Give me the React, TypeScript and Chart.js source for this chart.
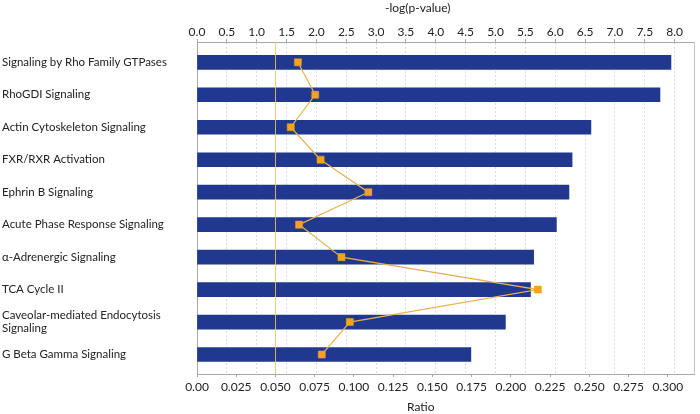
import React, { useEffect, useRef } from "react";
import { Chart, registerables } from "chart.js";

Chart.register(...registerables);

const categories: (string | string[])[] = [
  "Signaling by Rho Family GTPases",
  "RhoGDI Signaling",
  "Actin Cytoskeleton Signaling",
  "FXR/RXR Activation",
  "Ephrin B Signaling",
  "Acute Phase Response Signaling",
  "\u03b1-Adrenergic Signaling",
  "TCA Cycle II",
  ["Caveolar-mediated Endocytosis", "Signaling"],
  "G Beta Gamma Signaling",
];

const ratioValues = [0.302, 0.295, 0.251, 0.239, 0.237, 0.229, 0.2145, 0.2125, 0.1965, 0.1745];
const logPValues = [1.69, 1.98, 1.57, 2.07, 2.87, 1.71, 2.42, 5.71, 2.56, 2.09];
const thresholdLogP = 1.3;

const ratioTicks = [0, 0.025, 0.05, 0.075, 0.1, 0.125, 0.15, 0.175, 0.2, 0.225, 0.25, 0.275, 0.3];
const logPTicks = [0, 0.5, 1, 1.5, 2, 2.5, 3, 3.5, 4, 4.5, 5, 5.5, 6, 6.5, 7, 7.5, 8];

const topTitle = "-log(p-value)";
const bottomTitle = "Ratio";

const FONT = "Lato, 'Liberation Sans', sans-serif";

export default function App() {
  const ref = useRef<HTMLCanvasElement | null>(null);

  useEffect(() => {
    if (!ref.current) return;

    const framePlugin = {
      id: "framePlugin",
      afterDatasetsDraw(chart: any) {
        const { ctx, chartArea } = chart;
        const x2 = chart.scales.x2;
        const px = x2.getPixelForValue(thresholdLogP);
        ctx.save();
        ctx.strokeStyle = "rgba(240, 200, 90, 0.85)";
        ctx.lineWidth = 1;
        ctx.beginPath();
        ctx.moveTo(Math.round(px) + 0.5, chartArea.top);
        ctx.lineTo(Math.round(px) + 0.5, chartArea.bottom);
        ctx.stroke();
        ctx.strokeStyle = "#c4c4c4";
        ctx.beginPath();
        ctx.moveTo(Math.round(chartArea.right) - 0.5, chartArea.top);
        ctx.lineTo(Math.round(chartArea.right) - 0.5, chartArea.bottom);
        ctx.stroke();
        ctx.restore();
      },
      afterDraw(chart: any) {
        const { ctx, chartArea } = chart;
        const cx = (chartArea.left + chartArea.right) / 2 - 25;
        ctx.save();
        ctx.fillStyle = "#222";
        ctx.font = "12px " + FONT;
        ctx.textAlign = "center";
        ctx.textBaseline = "middle";
        ctx.fillText(topTitle, cx - 3, 8);
        ctx.fillText(bottomTitle, cx, 407);
        ctx.restore();
      },
    };

    const chart = new Chart(ref.current, {
      type: "bar",
      data: {
        datasets: [
          {
            type: "line",
            data: logPValues.map((v, i) => ({ x: v, y: i })),
            xAxisID: "x2",
            yAxisID: "y",
            indexAxis: "y",
            borderColor: "#e6b24e",
            borderWidth: 1.2,
            pointStyle: "rect",
            pointRadius: 5,
            pointBackgroundColor: "#f5a31c",
            pointBorderColor: "#f0a020",
            pointBorderWidth: 0.5,
            tension: 0,
            order: 0,
          } as any,
          {
            type: "bar",
            data: ratioValues.map((v, i) => ({ x: v, y: i })),
            xAxisID: "x",
            yAxisID: "y",
            backgroundColor: "#20398f",
            borderWidth: 0,
            barThickness: 14,
            order: 1,
          } as any,
        ],
      },
      options: {
        indexAxis: "y",
        animation: false,
        responsive: false,
        maintainAspectRatio: false,
        layout: { padding: { left: 2, right: 3, top: 0, bottom: 0 } },
        plugins: {
          legend: { display: false },
          tooltip: { enabled: false },
        },
        scales: {
          y: {
            type: "linear",
            reverse: true,
            offset: false,
            min: -0.626,
            max: 9.6,
            afterBuildTicks: (scale: any) => {
              scale.ticks = categories.map((_, i) => ({ value: i }));
            },
            afterFit: (scale: any) => {
              scale.width = 195;
            },
            ticks: {
              autoSkip: false,
              crossAlign: "far",
              color: "#222",
              font: { family: FONT, size: 11.5, lineHeight: 1.15 },
              callback: (v: any) => categories[v as number] as any,
            },
            grid: { display: false, offset: false },
            border: { display: true, color: "#a8a8a8" },
          },
          x: {
            type: "linear",
            position: "bottom",
            min: 0,
            max: 0.317,
            afterBuildTicks: (scale: any) => {
              scale.ticks = ratioTicks.map((v) => ({ value: v }));
            },
            afterFit: (scale: any) => {
              scale.height = 40;
            },
            ticks: {
              autoSkip: false,
              maxRotation: 0,
              padding: 3,
              color: "#222",
              font: { family: FONT, size: 12 },
              callback: (v: any) => (v === 0 ? "0.00" : Number(v).toFixed(3)),
            },
            grid: {
              drawOnChartArea: false,
              drawTicks: true,
              tickLength: 3,
              tickColor: "#a8a8a8",
            },
            border: { display: true, color: "#a8a8a8" },
          },
          x2: {
            type: "linear",
            position: "top",
            min: 0,
            max: 8.333,
            afterBuildTicks: (scale: any) => {
              scale.ticks = logPTicks.map((v) => ({ value: v }));
            },
            afterFit: (scale: any) => {
              scale.height = 42;
            },
            ticks: {
              autoSkip: false,
              maxRotation: 0,
              padding: 0,
              color: "#222",
              font: { family: FONT, size: 12 },
              callback: (v: any) => Number(v).toFixed(1),
            },
            grid: {
              drawOnChartArea: true,
              drawTicks: true,
              tickLength: 3,
              color: "#dcdcdc",
              tickColor: "#a8a8a8",
            },
            border: { display: true, color: "#a8a8a8", dash: [2, 2] },
          },
        },
      } as any,
      plugins: [framePlugin],
    });

    return () => chart.destroy();
  }, []);

  return (
    <div style={{ position: "absolute", left: 0, top: 0, width: 700, height: 414, background: "#fff" }}>
      <canvas ref={ref} width={700} height={414} style={{ width: 700, height: 414, display: "block" }} />
    </div>
  );
}
